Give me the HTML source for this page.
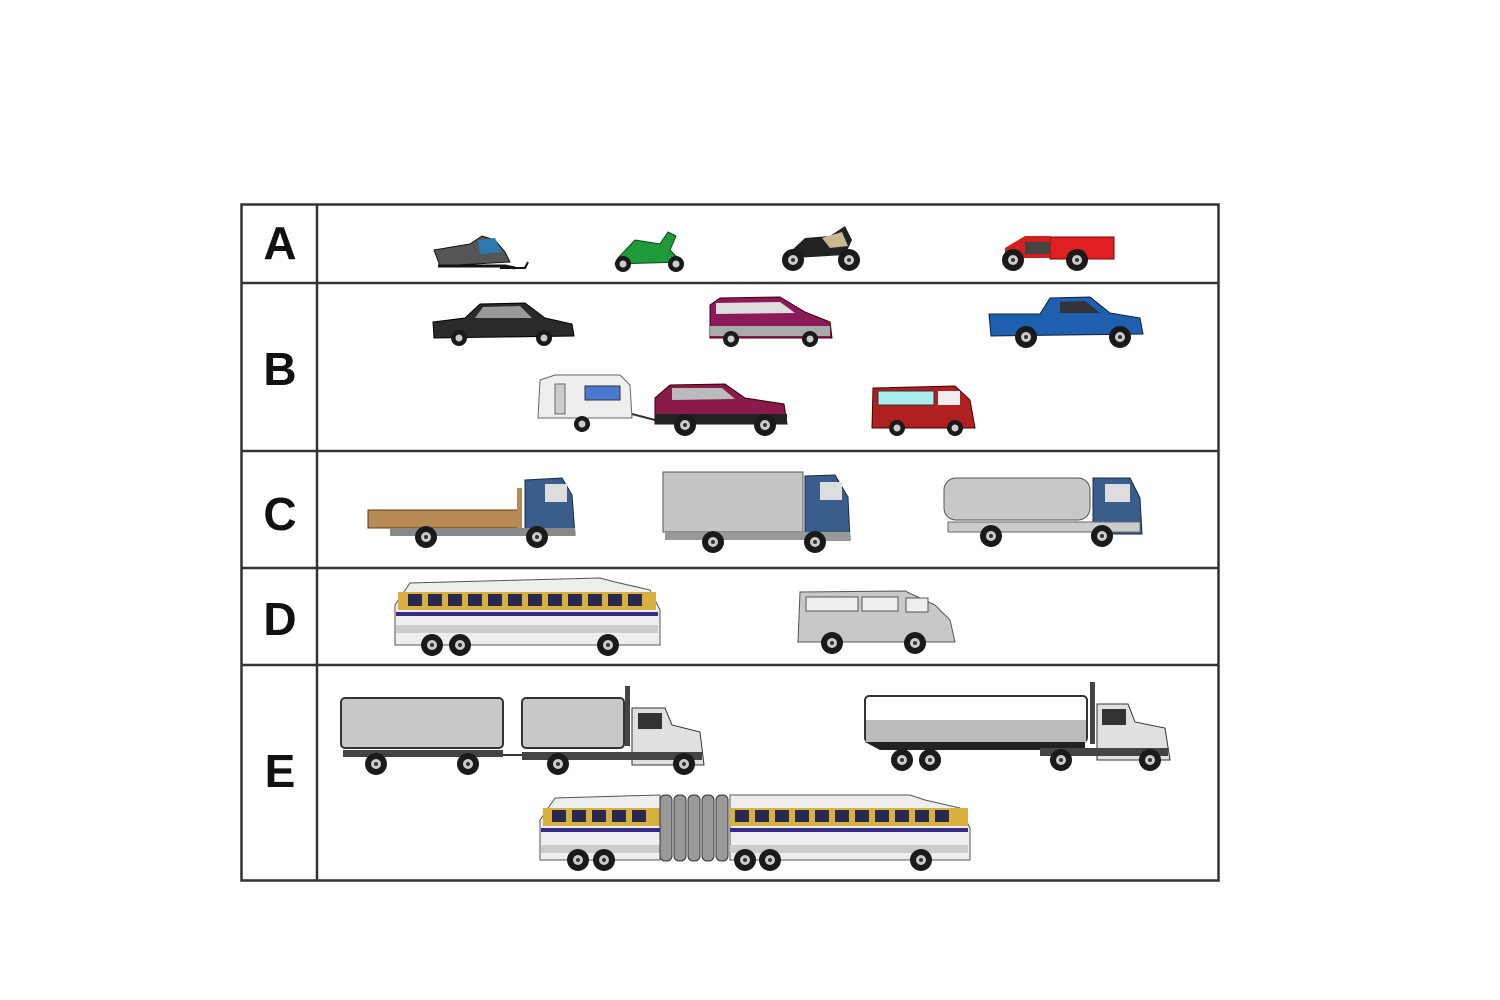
<!DOCTYPE html>
<html><head><meta charset="utf-8"><style>
html,body{margin:0;padding:0;background:#fff;}
svg{display:block;}
text{font-family:"Liberation Sans",Arial,sans-serif;font-weight:bold;}
</style></head><body>
<svg width="1500" height="1000" viewBox="0 0 1500 1000" xmlns="http://www.w3.org/2000/svg">
<defs>
<g id="w"><circle r="11" fill="#1a1a1a"/><circle r="5" fill="#ccc"/><circle r="2" fill="#333"/></g>
<g id="ws"><circle r="8" fill="#1a1a1a"/><circle r="3.5" fill="#ccc"/></g>
</defs>
<!-- table -->
<rect x="241.5" y="204.5" width="977" height="676" fill="none" stroke="#333" stroke-width="2.5"/>
<line x1="317" y1="204" x2="317" y2="881" stroke="#333" stroke-width="2.5"/>
<g stroke="#333" stroke-width="2.5">
<line x1="241" y1="283" x2="1219" y2="283"/>
<line x1="241" y1="451" x2="1219" y2="451"/>
<line x1="241" y1="568" x2="1219" y2="568"/>
<line x1="241" y1="665" x2="1219" y2="665"/>
</g>
<g font-size="46" text-anchor="middle" fill="#111">
<text x="280" y="259">A</text>
<text x="280" y="385">B</text>
<text x="280" y="530">C</text>
<text x="280" y="635">D</text>
<text x="280" y="787">E</text>
</g>

<!-- Row A -->
<!-- snowmobile -->
<path d="M434 250 L470 244 L482 236 L495 240 L505 252 L510 262 L440 266 Z" fill="#555" stroke="#111"/>
<path d="M478 240 L495 238 L502 252 L480 254 Z" fill="#2a7ab0"/>
<path d="M438 266 L505 266 L515 268" stroke="#111" stroke-width="3" fill="none"/>
<path d="M500 268 L525 268 L528 262" stroke="#111" stroke-width="2" fill="none"/>
<!-- scooter -->
<path d="M618 258 L635 240 L660 244 L668 232 L676 236 L670 250 L682 262 L615 264 Z" fill="#1f9a3a" stroke="#0a4a1a"/>
<use href="#ws" x="623" y="264"/><use href="#ws" x="676" y="264"/>
<!-- motorcycle -->
<path d="M790 252 L805 238 L830 236 L845 226 L852 240 L845 255 L795 258 Z" fill="#222"/>
<path d="M822 238 L842 232 L848 246 L830 248 Z" fill="#c8b890"/>
<use href="#w" x="793" y="260"/><use href="#w" x="849" y="260"/>
<!-- ATV -->
<rect x="1050" y="237" width="64" height="22" fill="#e02020" stroke="#700"/>
<path d="M1005 248 L1025 236 L1050 236 L1050 258 L1005 258 Z" fill="#d02020"/>
<rect x="1025" y="242" width="25" height="12" fill="#444"/>
<use href="#w" x="1013" y="260"/><use href="#w" x="1077" y="260"/>

<!-- Row B -->
<!-- sedan -->
<path d="M433 322 L465 318 L480 304 L525 303 L545 318 L572 324 L574 336 L434 338 Z" fill="#2a2a2a" stroke="#000"/>
<path d="M483 307 L520 306 L532 318 L475 318 Z" fill="#999"/>
<use href="#ws" x="459" y="338"/><use href="#ws" x="544" y="338"/>
<!-- minivan -->
<path d="M710 305 L720 298 L780 297 L805 312 L830 322 L832 338 L710 338 Z" fill="#8a1a5a" stroke="#400"/>
<path d="M716 303 L780 302 L795 313 L716 314 Z" fill="#ddd"/>
<rect x="710" y="326" width="120" height="10" fill="#aaa"/>
<use href="#ws" x="731" y="339"/><use href="#ws" x="810" y="339"/>
<!-- pickup -->
<path d="M989 314 L1040 314 L1050 298 L1090 297 L1110 313 L1140 318 L1143 334 L991 336 Z" fill="#1e5fb0" stroke="#102040"/>
<path d="M1060 302 L1085 301 L1100 313 L1060 313 Z" fill="#333"/>
<use href="#w" x="1026" y="337"/><use href="#w" x="1120" y="337"/>
<!-- caravan -->
<path d="M540 380 L555 375 L620 375 L630 385 L632 418 L538 418 Z" fill="#eee" stroke="#666"/>
<rect x="585" y="386" width="35" height="14" fill="#4a7ad0" stroke="#333"/>
<rect x="555" y="384" width="10" height="30" fill="#ccc" stroke="#666"/>
<line x1="632" y1="414" x2="655" y2="420" stroke="#333" stroke-width="2"/>
<use href="#ws" x="582" y="424"/>
<!-- SUV -->
<path d="M655 398 L670 385 L725 384 L745 398 L784 404 L787 424 L655 424 Z" fill="#8a1a4a" stroke="#300"/>
<path d="M672 388 L722 388 L735 399 L672 400 Z" fill="#bbb"/>
<rect x="655" y="414" width="132" height="10" fill="#222"/>
<use href="#w" x="685" y="425"/><use href="#w" x="765" y="425"/>
<!-- red van -->
<path d="M873 388 L955 386 L970 400 L975 428 L872 428 Z" fill="#b02020" stroke="#400"/>
<rect x="878" y="391" width="56" height="14" fill="#aee" stroke="#333"/>
<rect x="938" y="391" width="22" height="14" fill="#eee"/>
<use href="#ws" x="897" y="428"/><use href="#ws" x="955" y="428"/>

<!-- Row C -->
<!-- flatbed -->
<rect x="368" y="510" width="152" height="18" fill="#b88a55" stroke="#5a3a10"/>
<rect x="517" y="488" width="5" height="40" fill="#b88a55"/>
<path d="M525 480 L562 478 L572 495 L575 535 L525 535 Z" fill="#3a5e8c" stroke="#1a2a40"/>
<rect x="545" y="484" width="22" height="18" fill="#ddd"/>
<rect x="390" y="528" width="185" height="8" fill="#888"/>
<use href="#w" x="426" y="537"/><use href="#w" x="537" y="537"/>
<!-- box truck -->
<rect x="663" y="472" width="140" height="60" fill="#c4c4c4" stroke="#555"/>
<path d="M805 476 L835 475 L848 497 L850 540 L805 540 Z" fill="#3a5e8c" stroke="#1a2a40"/>
<rect x="820" y="482" width="22" height="18" fill="#ddd"/>
<rect x="665" y="532" width="185" height="8" fill="#999"/>
<use href="#w" x="713" y="542"/><use href="#w" x="815" y="542"/>
<!-- tanker -->
<rect x="944" y="478" width="146" height="42" rx="12" fill="#c8c8c8" stroke="#555"/>
<path d="M1093 478 L1130 478 L1140 498 L1142 534 L1093 534 Z" fill="#3a5e8c" stroke="#1a2a40"/>
<rect x="1105" y="484" width="25" height="18" fill="#ddd"/>
<rect x="948" y="522" width="192" height="10" fill="#ccc" stroke="#666"/>
<use href="#w" x="991" y="536"/><use href="#w" x="1102" y="536"/>

<!-- Row D -->
<!-- bus -->
<path d="M395 605 L410 583 L600 578 L615 582 L650 590 L660 610 L660 645 L395 645 Z" fill="#eee" stroke="#555"/>
<rect x="398" y="592" width="258" height="18" fill="#d8b040"/>
<g fill="#2a2a50"><rect x="408" y="594" width="14" height="12"/><rect x="428" y="594" width="14" height="12"/><rect x="448" y="594" width="14" height="12"/><rect x="468" y="594" width="14" height="12"/><rect x="488" y="594" width="14" height="12"/><rect x="508" y="594" width="14" height="12"/><rect x="528" y="594" width="14" height="12"/><rect x="548" y="594" width="14" height="12"/><rect x="568" y="594" width="14" height="12"/><rect x="588" y="594" width="14" height="12"/><rect x="608" y="594" width="14" height="12"/><rect x="628" y="594" width="14" height="12"/></g>
<rect x="396" y="612" width="262" height="4" fill="#3a2a8a"/>
<rect x="396" y="625" width="262" height="8" fill="#ccc"/>
<use href="#w" x="432" y="645"/><use href="#w" x="460" y="645"/><use href="#w" x="608" y="645"/>
<!-- minibus -->
<path d="M800 592 L905 591 L935 605 L950 620 L955 642 L798 642 Z" fill="#c8c8c8" stroke="#555"/>
<g fill="#eee" stroke="#555"><rect x="806" y="597" width="52" height="14"/><rect x="862" y="597" width="36" height="14"/><rect x="906" y="598" width="22" height="14"/></g>
<use href="#w" x="832" y="643"/><use href="#w" x="915" y="643"/>

<!-- Row E -->
<!-- truck + trailer -->
<rect x="341" y="698" width="162" height="50" rx="4" fill="#c8c8c8" stroke="#333" stroke-width="2"/>
<rect x="343" y="750" width="160" height="7" fill="#444"/>
<line x1="503" y1="755" x2="522" y2="755" stroke="#333" stroke-width="2"/>
<rect x="522" y="698" width="102" height="50" rx="4" fill="#c8c8c8" stroke="#333" stroke-width="2"/>
<rect x="625" y="686" width="5" height="60" fill="#444"/>
<path d="M632 708 L665 708 L672 725 L700 732 L704 765 L632 765 Z" fill="#e0e0e0" stroke="#333"/>
<rect x="638" y="713" width="24" height="16" fill="#333"/>
<rect x="522" y="752" width="180" height="8" fill="#444"/>
<use href="#w" x="376" y="764"/><use href="#w" x="468" y="764"/><use href="#w" x="558" y="764"/><use href="#w" x="684" y="764"/>
<!-- semi tanker -->
<rect x="865" y="696" width="222" height="46" rx="4" fill="#fff" stroke="#333" stroke-width="2"/>
<rect x="866" y="720" width="220" height="22" fill="#bbb"/>
<path d="M865 742 L1085 742 L1085 750 L880 750 Z" fill="#222"/>
<rect x="1090" y="682" width="5" height="62" fill="#444"/>
<path d="M1097 704 L1128 704 L1135 722 L1165 728 L1170 760 L1097 760 Z" fill="#e0e0e0" stroke="#333"/>
<rect x="1102" y="709" width="24" height="16" fill="#333"/>
<rect x="1040" y="748" width="128" height="8" fill="#444"/>
<use href="#w" x="902" y="760"/><use href="#w" x="930" y="760"/><use href="#w" x="1061" y="760"/><use href="#w" x="1150" y="760"/>
<!-- articulated bus -->
<path d="M540 820 L555 798 L660 795 L660 860 L540 860 Z" fill="#eee" stroke="#555"/>
<path d="M730 795 L910 795 L925 800 L960 808 L970 828 L970 860 L730 860 Z" fill="#eee" stroke="#555"/>
<rect x="543" y="808" width="117" height="18" fill="#d8b040"/>
<rect x="730" y="808" width="238" height="18" fill="#d8b040"/>
<g fill="#2a2a50"><rect x="552" y="810" width="14" height="12"/><rect x="572" y="810" width="14" height="12"/><rect x="592" y="810" width="14" height="12"/><rect x="612" y="810" width="14" height="12"/><rect x="632" y="810" width="14" height="12"/>
<rect x="735" y="810" width="14" height="12"/><rect x="755" y="810" width="14" height="12"/><rect x="775" y="810" width="14" height="12"/><rect x="795" y="810" width="14" height="12"/><rect x="815" y="810" width="14" height="12"/><rect x="835" y="810" width="14" height="12"/><rect x="855" y="810" width="14" height="12"/><rect x="875" y="810" width="14" height="12"/><rect x="895" y="810" width="14" height="12"/><rect x="915" y="810" width="14" height="12"/><rect x="935" y="810" width="14" height="12"/></g>
<rect x="541" y="828" width="119" height="4" fill="#3a2a8a"/><rect x="730" y="828" width="238" height="4" fill="#3a2a8a"/>
<rect x="541" y="845" width="119" height="8" fill="#ccc"/><rect x="730" y="845" width="238" height="8" fill="#ccc"/>
<g fill="#999" stroke="#333"><rect x="660" y="795" width="12" height="66" rx="5"/><rect x="674" y="795" width="12" height="66" rx="5"/><rect x="688" y="795" width="12" height="66" rx="5"/><rect x="702" y="795" width="12" height="66" rx="5"/><rect x="716" y="795" width="12" height="66" rx="5"/></g>
<use href="#w" x="578" y="860"/><use href="#w" x="604" y="860"/><use href="#w" x="745" y="860"/><use href="#w" x="770" y="860"/><use href="#w" x="921" y="860"/>
</svg>
</body></html>
